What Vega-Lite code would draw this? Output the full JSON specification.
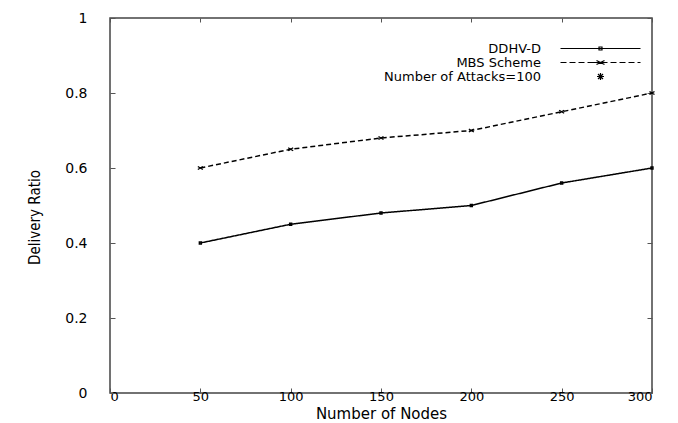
{
  "$schema": "https://vega.github.io/schema/vega-lite/v6.json",
  "width": 542,
  "height": 375,
  "autosize": {"type": "none"},
  "padding": {"left": 110, "top": 18, "right": 26, "bottom": 30},
  "background": "white",
  "config": {
    "view": {"stroke": "#444", "strokeWidth": 1.5},
    "axis": {"domain": false, "grid": false, "tickColor": "#555", "labelColor": "black", "titleColor": "black", "labelFont": "DejaVu Sans", "titleFont": "DejaVu Sans"}
  },
  "data": {
    "values": [
      {"nodes": 50, "ratio": 0.40, "series": "DDHV-D"},
      {"nodes": 100, "ratio": 0.45, "series": "DDHV-D"},
      {"nodes": 150, "ratio": 0.48, "series": "DDHV-D"},
      {"nodes": 200, "ratio": 0.50, "series": "DDHV-D"},
      {"nodes": 250, "ratio": 0.56, "series": "DDHV-D"},
      {"nodes": 300, "ratio": 0.60, "series": "DDHV-D"},
      {"nodes": 50, "ratio": 0.60, "series": "MBS Scheme"},
      {"nodes": 100, "ratio": 0.65, "series": "MBS Scheme"},
      {"nodes": 150, "ratio": 0.68, "series": "MBS Scheme"},
      {"nodes": 200, "ratio": 0.70, "series": "MBS Scheme"},
      {"nodes": 250, "ratio": 0.75, "series": "MBS Scheme"},
      {"nodes": 300, "ratio": 0.80, "series": "MBS Scheme"}
    ]
  },
  "layer": [
    {
      "mark": {"type": "line", "color": "black", "strokeWidth": 1.5},
      "encoding": {
        "x": {
          "field": "nodes", "type": "quantitative",
          "scale": {"domain": [0, 300], "nice": false, "zero": false},
          "axis": {"values": [0, 50, 100, 150, 200, 250, 300], "tickSize": -5, "labelPadding": 2, "labelFontSize": 13, "title": "Number of Nodes", "titleFontSize": 15, "titleFontWeight": "normal", "titlePadding": 3}
        },
        "y": {
          "field": "ratio", "type": "quantitative",
          "scale": {"domain": [0, 1], "nice": false},
          "axis": {"values": [0, 0.2, 0.4, 0.6, 0.8, 1], "format": "~g", "tickSize": -5, "labelPadding": 28, "labelFontSize": 14, "title": "Delivery Ratio", "titleFont": "DejaVu Sans Condensed", "titleFontSize": 15, "titleFontWeight": "normal", "titlePadding": 22, "titleY": 199}
        },
        "strokeDash": {
          "field": "series", "type": "nominal",
          "scale": {"domain": ["DDHV-D", "MBS Scheme"], "range": [[1, 0], [5, 3]]},
          "legend": null
        }
      }
    },
    {
      "mark": {"type": "point", "filled": false, "color": "black", "strokeWidth": 1.4, "size": 25, "opacity": 1},
      "encoding": {
        "x": {"field": "nodes", "type": "quantitative", "axis": null, "scale": {"domain": [0, 300], "nice": false, "zero": false}},
        "y": {"field": "ratio", "type": "quantitative", "axis": null, "scale": {"domain": [0, 1], "nice": false}},
        "shape": {
          "field": "series", "type": "nominal",
          "scale": {"domain": ["DDHV-D", "MBS Scheme"], "range": ["M-0.4,-0.4H0.4V0.4H-0.4Z", "M-1,-0.6L1,0.6M-1,0.6L1,-0.6"]},
          "legend": null
        }
      }
    },
    {
      "mark": {"type": "point", "filled": false, "color": "black", "strokeWidth": 1.2, "opacity": 0},
      "encoding": {
        "x": {"field": "nodes", "type": "quantitative", "axis": {"orient": "top", "values": [0, 50, 100, 150, 200, 250, 300], "labels": false, "title": null, "tickSize": -4}, "scale": {"domain": [0, 300], "nice": false, "zero": false}},
        "y": {"field": "ratio", "type": "quantitative", "axis": {"orient": "right", "values": [0, 0.2, 0.4, 0.6, 0.8, 1], "labels": false, "title": null, "tickSize": -5}, "scale": {"domain": [0, 1], "nice": false}},
        "shape": {
          "field": "series", "type": "nominal",
          "scale": {"domain": ["DDHV-D", "MBS Scheme", "Number of Attacks=100"], "range": ["M-8,0H8M-0.3,-0.3H0.3V0.3H-0.3Z", "M-8,0H-6.8M-6.2,0H-5M-4.4,0H-3.2M-2.6,0H-1.4M-0.8,-0.4L0.8,0.4M-0.8,0.4L0.8,-0.4M-1.4,0H1.4M2,0H3.2M3.8,0H5M5.6,0H6.8M7.4,0H8", "M-0.7,0H0.7M0,-0.7V0.7M-0.5,-0.5L0.5,0.5M-0.5,0.5L0.5,-0.5"]},
          "legend": {
            "orient": "none", "legendX": 484, "legendY": 24, "title": null,
            "symbolSize": 100, "symbolOpacity": 1, "symbolStrokeColor": "black", "symbolStrokeWidth": 1.2, "symbolFillColor": "transparent",
            "labelAlign": "right", "labelOffset": -66, "labelFont": "DejaVu Sans", "labelFontSize": 13, "labelColor": "black", "labelLimit": 0,
            "rowPadding": -1, "padding": 0
          }
        }
      }
    }
  ],
  "resolve": {"scale": {"shape": "independent"}, "axis": {"x": "independent", "y": "independent"}}
}
